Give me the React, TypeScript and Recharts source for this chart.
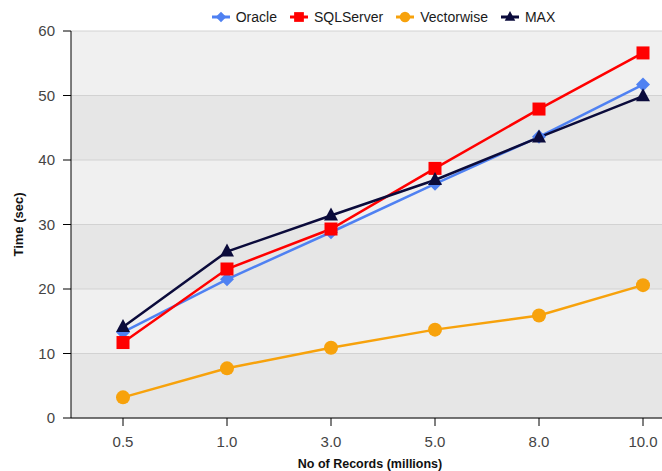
import React from 'react';
import { LineChart, Line, XAxis, YAxis, CartesianGrid, Legend } from 'recharts';

const categories = ['0.5', '1.0', '3.0', '5.0', '8.0', '10.0'];
const oracle = [13.3, 21.5, 28.8, 36.3, 43.6, 51.7];
const sqlserver = [11.7, 23.1, 29.3, 38.7, 47.9, 56.6];
const vectorwise = [3.2, 7.7, 10.9, 13.7, 15.9, 20.6];
const maxSeries = [14.1, 25.8, 31.4, 36.9, 43.5, 49.9];
const yTicks = [0, 10, 20, 30, 40, 50, 60];
const seriesNames = ['Oracle', 'SQLServer', 'Vectorwise', 'MAX'];

const data = categories.map((c, i) => ({
  name: c,
  Oracle: oracle[i],
  SQLServer: sqlserver[i],
  Vectorwise: vectorwise[i],
  MAX: maxSeries[i],
}));

const COLORS: Record<string, string> = {
  Oracle: '#4f81f2',
  SQLServer: '#ff0000',
  Vectorwise: '#f7a20c',
  MAX: '#0b0b3b',
};

const FONT = '"Liberation Sans", Arial, sans-serif';

function Marker({ kind, cx, cy, color, s = 1 }: any) {
  if (cx == null || cy == null) return null;
  if (kind === 'Oracle') {
    const r = 7 * s;
    return <polygon points={`${cx},${cy - r} ${cx + r},${cy} ${cx},${cy + r} ${cx - r},${cy}`} fill={color} />;
  }
  if (kind === 'SQLServer') {
    const h = 6.5 * s;
    return <rect x={cx - h} y={cy - h} width={2 * h} height={2 * h} fill={color} />;
  }
  if (kind === 'Vectorwise') {
    return <circle cx={cx} cy={cy} r={7 * s} fill={color} />;
  }
  return (
    <polygon
      points={`${cx},${cy - 8 * s} ${cx + 7 * s},${cy + 5 * s} ${cx - 7 * s},${cy + 5 * s}`}
      fill={color}
    />
  );
}

const makeDot = (kind: string) => (props: any) =>
  <Marker key={`${kind}-${props.index}`} kind={kind} cx={props.cx} cy={props.cy} color={COLORS[kind]} />;

const LegendContent = () => (
  <div style={{ display: 'flex', justifyContent: 'center', alignItems: 'center', height: 20, fontFamily: FONT, fontSize: 14, color: '#1a1a1a' }}>
    {seriesNames.map((name) => (
      <div key={name} style={{ display: 'flex', alignItems: 'center', marginRight: 12 }}>
        <svg width={20} height={14} style={{ marginRight: 5 }}>
          <line x1={1} y1={7} x2={19} y2={7} stroke={COLORS[name]} strokeWidth={3} />
          <Marker kind={name} cx={10} cy={7} color={COLORS[name]} s={0.75} />
        </svg>
        <span>{name}</span>
      </div>
    ))}
  </div>
);

const YLabel = (props: any) => {
  const vb = props.viewBox || {};
  const x = (vb.x || 0) + 18;
  const y = (vb.y || 0) + (vb.height || 0) / 2;
  return (
    <text x={x} y={y} transform={`rotate(-90, ${x}, ${y})`} textAnchor="middle" dominantBaseline="central"
      style={{ fontFamily: FONT, fontSize: 13, fontWeight: 'bold', fill: '#111' }}>
      Time (sec)
    </text>
  );
};

export default function App() {
  return (
    <div style={{ position: 'absolute', left: 0, top: 0, width: 662, height: 471, overflow: 'hidden', background: '#fff' }}>
      <LineChart width={700} height={471} data={data} margin={{ top: 11, right: 5, left: 0, bottom: 0 }}>
        <CartesianGrid vertical={false} stroke="#d2d2d2" horizontalFill={['#f0f0f0', '#e6e6e6']} fillOpacity={1} />
        <XAxis
          dataKey="name"
          height={53}
          stroke="#000"
          tickSize={8}
          tickMargin={10}
          padding={{ left: 52, right: 52 }}
          tick={{ fill: '#444', fontSize: 15, fontFamily: FONT }}
          tickLine={{ stroke: '#000' }}
          label={{ value: 'No of Records (millions)', position: 'insideBottom', offset: 3, dx: -13, style: { fontFamily: FONT, fontSize: 12.5, fontWeight: 'bold', fill: '#111' } }}
        />
        <YAxis
          width={71}
          domain={[0, 60]}
          ticks={yTicks}
          stroke="#000"
          tickSize={8}
          tickMargin={8}
          tick={{ fill: '#444', fontSize: 15, fontFamily: FONT }}
          tickLine={{ stroke: '#000' }}
          label={<YLabel />}
        />
        <Legend verticalAlign="top" align="center" content={<LegendContent />} wrapperStyle={{ top: 7, left: 58, width: 662 }} />
        {seriesNames.map((s) => (
          <Line
            key={s}
            type="linear"
            dataKey={s}
            stroke={COLORS[s]}
            strokeWidth={2.5}
            dot={makeDot(s)}
            activeDot={false}
            isAnimationActive={false}
          />
        ))}
      </LineChart>
    </div>
  );
}
